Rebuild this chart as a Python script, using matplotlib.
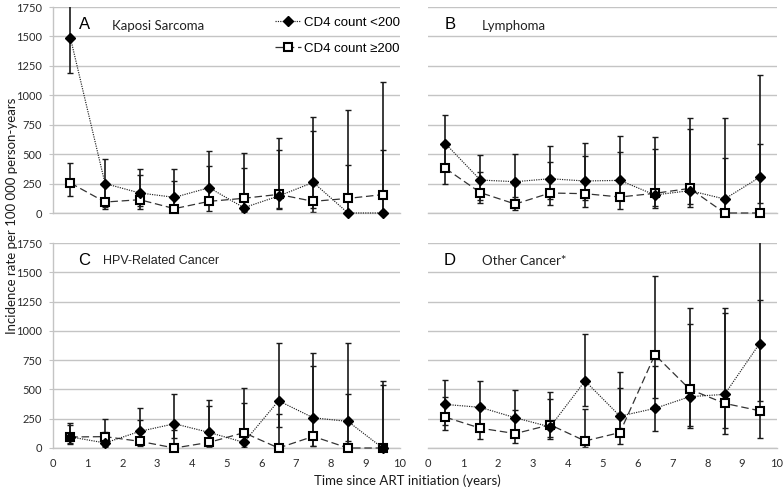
import matplotlib
matplotlib.use('Agg')
import matplotlib.pyplot as plt
from matplotlib.lines import Line2D
import numpy as np

# mid-year points 0.5 .. 9.5
years = [0.5, 1.5, 2.5, 3.5, 4.5, 5.5, 6.5, 7.5, 8.5, 9.5]
yticks = [0, 250, 500, 750, 1000, 1250, 1500, 1750]
xticks = [0, 1, 2, 3, 4, 5, 6, 7, 8, 9, 10]

# A  Kaposi Sarcoma
ks_low = [1490, 250, 170, 133, 215, 45, 144, 260, 0, 0]
ks_low_lo = [1190, 55, 60, 50, 80, 8, 31, 40, 0, 0]
ks_low_hi = [2000, 458, 376, 371, 527, 509, 637, 818, 877, 1109]
ks_high = [255, 93, 113, 37, 99, 125, 158, 99, 124, 156]
ks_high_lo = [147, 31, 37, 10, 20, 20, 40, 8, 15, 20]
ks_high_hi = [427, 260, 325, 272, 399, 385, 538, 700, 410, 538]

# B  Lymphoma
ly_low = [589, 280, 266, 291, 272, 277, 153, 190, 119, 303]
ly_low_lo = [400, 85, 139, 120, 110, 120, 45, 54, 3, 85]
ly_low_hi = [832, 490, 504, 569, 591, 657, 648, 804, 804, 1175]
ly_high = [379, 173, 76, 170, 164, 136, 167, 209, 0, 0]
ly_high_lo = [246, 110, 25, 68, 54, 37, 60, 80, 0, 0]
ly_high_hi = [560, 348, 240, 430, 481, 515, 546, 710, 464, 583]

# C  HPV-related cancer
hpv_low = [95, 43, 142, 207, 133, 48, 403, 258, 227, 0]
hpv_low_lo = [40, 10, 40, 88, 35, 10, 176, 14, 57, 0]
hpv_low_hi = [216, 139, 338, 463, 358, 383, 900, 815, 900, 574]
hpv_high = [94, 97, 57, 0, 48, 131, 0, 99, 0, 0]
hpv_high_lo = [34, 20, 15, 0, 10, 30, 0, 14, 0, 0]
hpv_high_hi = [200, 250, 241, 150, 409, 511, 287, 696, 457, 542]

# D  Other cancer
oc_low = [372, 347, 258, 180, 573, 272, 338, 438, 458, 891]
oc_low_lo = [200, 150, 120, 80, 358, 150, 146, 192, 169, 401]
oc_low_hi = [581, 576, 495, 418, 977, 653, 700, 1060, 1197, 2000]
oc_high = [263, 169, 123, 198, 60, 132, 796, 501, 381, 318]
oc_high_lo = [152, 77, 46, 90, 8, 37, 424, 175, 123, 83]
oc_high_hi = [438, 350, 324, 475, 332, 510, 1469, 1191, 1154, 1260]

panels = [
    ('A', 'Kaposi Sarcoma', 'Lato', ks_low, ks_low_lo, ks_low_hi, ks_high, ks_high_lo, ks_high_hi),
    ('B', 'Lymphoma', 'Lato', ly_low, ly_low_lo, ly_low_hi, ly_high, ly_high_lo, ly_high_hi),
    ('C', 'HPV-Related Cancer', 'Liberation Sans', hpv_low, hpv_low_lo, hpv_low_hi, hpv_high, hpv_high_lo, hpv_high_hi),
    ('D', 'Other Cancer*', 'Lato', oc_low, oc_low_lo, oc_low_hi, oc_high, oc_high_lo, oc_high_hi),
]

W, H = 783, 497
fig = plt.figure(figsize=(W / 100, H / 100), dpi=100)

# axes boxes in pixels: left, top, right, bottom
boxes = [(53, 7, 400, 213), (428, 7, 777, 213), (53, 243, 400, 448), (428, 243, 777, 448)]

grid_col = '#c4c4c4'
tick_col = '#2a2a2a'

for i, (box, p) in enumerate(zip(boxes, panels)):
    l, t, r, b = box
    ax = fig.add_axes([l / W, 1 - b / H, (r - l) / W, (b - t) / H])
    letter, name, name_font, lo_v, lo_l, lo_h, hi_v, hi_l, hi_h = p

    ax.set_xlim(0, 10)
    ax.set_ylim(0, 1750)
    ax.set_yticks(yticks)
    ax.set_xticks(xticks)
    ax.yaxis.grid(True, color=grid_col, linewidth=1.0)
    ax.set_axisbelow(True)
    for s in ['top', 'right']:
        ax.spines[s].set_visible(False)
    ax.spines['bottom'].set_color(grid_col)
    ax.spines['bottom'].set_linewidth(1.0)
    ax.spines['left'].set_color(grid_col)
    ax.spines['left'].set_linewidth(1.0)
    ax.tick_params(axis='x', length=0, pad=7, labelsize=8, labelcolor=tick_col)
    ax.tick_params(axis='y', length=3, color=grid_col, pad=5, labelsize=8, labelcolor=tick_col)
    for lab in ax.get_xticklabels() + ax.get_yticklabels():
        lab.set_fontfamily('Lato')

    if i in (1, 3):
        ax.spines['left'].set_visible(False)
        ax.tick_params(axis='y', length=0, labelleft=False)
    if i in (0, 1):
        ax.tick_params(axis='x', labelbottom=False)

    lo_v = np.array(lo_v); hi_v = np.array(hi_v)
    ax.errorbar(years, lo_v, yerr=[lo_v - np.array(lo_l), np.array(lo_h) - lo_v],
                fmt='none', ecolor='#1a1a1a', elinewidth=1.2, capsize=2.5, capthick=1, zorder=2)
    ax.errorbar(years, hi_v, yerr=[hi_v - np.array(hi_l), np.array(hi_h) - hi_v],
                fmt='none', ecolor='#1a1a1a', elinewidth=1.2, capsize=2.5, capthick=1, zorder=2)
    ax.plot(years, hi_v, linestyle=(0, (6, 3)), color='#333333', linewidth=0.9,
            marker='s', markersize=6, markerfacecolor='white', markeredgecolor='black',
            markeredgewidth=1.5, zorder=3, clip_on=False)
    ax.plot(years, lo_v, linestyle=(0, (1, 1)), color='#222222', linewidth=0.85,
            marker='D', markersize=4.6, markerfacecolor='black', markeredgecolor='black',
            zorder=4, clip_on=False)

    lx = 0.09 if i in (0, 2) else 0.063
    ax.text(lx, 0.915, letter, transform=ax.transAxes, ha='center', va='center',
            fontsize=12, family='Liberation Sans', color='black')
    nx = [0.17, 0.155, 0.144, 0.155][i]
    ax.text(nx, 0.91, name, transform=ax.transAxes, ha='left', va='center',
            fontsize=9.5 if name_font == 'Lato' else 9, family=name_font, color='#222222')

    if i == 0:
        handles = [
            Line2D([], [], linestyle=(0, (1, 1)), color='#222222', linewidth=0.85, marker='D',
                   markersize=4.6, markerfacecolor='black', markeredgecolor='black'),
            Line2D([], [], linestyle=(0, (6, 3)), color='#333333', linewidth=0.9, marker='s',
                   markersize=6, markerfacecolor='white', markeredgecolor='black',
                   markeredgewidth=1.5),
        ]
        ax.legend(handles, ['CD4 count <200', 'CD4 count \u2265200'], loc='upper right',
                  bbox_to_anchor=(1.0, 0.955), frameon=False, handlelength=2.0,
                  handletextpad=0.2, labelspacing=1.05, borderpad=0, borderaxespad=0,
                  prop={'family': ['Liberation Sans', 'DejaVu Sans'], 'size': 9.5})

fig.text(12 / W, 1 - 216 / H, 'Incidence rate per 100 000 person-years', rotation=90,
         ha='center', va='center', fontsize=9.5, family='Lato', color='#1a1a1a')
fig.text(407 / W, 1 - 481 / H, 'Time since ART initiation (years)', ha='center',
         va='center', fontsize=9.5, family='Lato', color='#1a1a1a')

fig.savefig('out.png', dpi=100)
